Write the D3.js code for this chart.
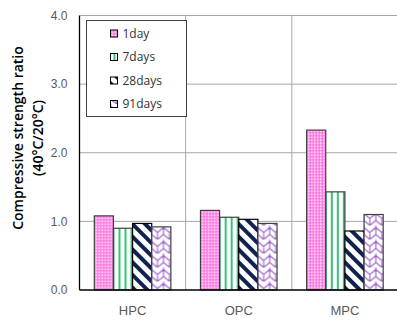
<!doctype html>
<html>
<head>
<meta charset="UTF-8">
<title>Compressive strength ratio</title>
<style>
  body { margin: 0; background: #fff; }
  svg { font-family: "Open Sans", "Liberation Sans", sans-serif; }
  .tick text { font-size: 12px; fill: #595959; }
  .axis path, .axis line { stroke: none; }
</style>
</head>
<body>
<script src="https://cdn.jsdelivr.net/npm/d3@7"></script>
<script>
  const categories = ['HPC', 'OPC', 'MPC']
  const seriesNames = ['1day', '7days', '28days', '91days']
  const day1 = [1.08, 1.16, 2.33]
  const day7 = [0.90, 1.06, 1.43]
  const day28 = [0.97, 1.03, 0.86]
  const day91 = [0.92, 0.97, 1.10]
  const yTicks = [0, 1, 2, 3, 4]

  const values = [day1, day7, day28, day91]

  const W = 397, H = 320
  const margin = {top: 15.5, right: 0, bottom: 30, left: 79.5}
  const width = 398 - margin.left
  const height = 290 - margin.top

  const svg = d3.select('body').append('svg')
    .attr('width', W).attr('height', H)

  // patterns
  const defs = svg.append('defs')
  const p1 = defs.append('pattern').attr('id', 'p0')
    .attr('patternUnits', 'userSpaceOnUse').attr('width', 3).attr('height', 3)
  p1.append('rect').attr('width', 3).attr('height', 3).attr('fill', '#ff70e0')
  p1.append('rect').attr('x', 1).attr('y', 1).attr('width', 1.6).attr('height', 1.6).attr('fill', '#fff')

  const p2 = defs.append('pattern').attr('id', 'p1')
    .attr('patternUnits', 'userSpaceOnUse').attr('width', 6).attr('height', 6)
  p2.append('rect').attr('width', 6).attr('height', 6).attr('fill', '#fff')
  p2.append('rect').attr('x', 3).attr('width', 2).attr('height', 6).attr('fill', '#33c477')

  const p3 = defs.append('pattern').attr('id', 'p2')
    .attr('patternUnits', 'userSpaceOnUse').attr('width', 9).attr('height', 9)
    .attr('patternTransform', 'rotate(45)')
  p3.append('rect').attr('width', 9).attr('height', 9).attr('fill', '#fff')
  p3.append('rect').attr('width', 9).attr('height', 4).attr('fill', '#0f2250')

  const p4 = defs.append('pattern').attr('id', 'p3')
    .attr('patternUnits', 'userSpaceOnUse').attr('width', 12).attr('height', 14)
  p4.append('rect').attr('width', 12).attr('height', 14).attr('fill', '#fff')
  p4.append('path').attr('d', 'M0,2 L6,7 L12,2 M6,7 L6,14 M0,9 L0,2 M12,9 L12,2 M0,9 L6,14 L12,9 M0,0 L0,2 M12,0 L12,2')
    .attr('fill', 'none').attr('stroke', '#9a60c8').attr('stroke-width', 1.1)

  const g = svg.append('g').attr('transform', `translate(${margin.left},${margin.top})`)

  const x0 = d3.scaleBand().domain(categories).range([0, width]).paddingInner(0).paddingOuter(0)
  const x1 = d3.scaleBand().domain(seriesNames).range([14.8, x0.bandwidth() - 14.8])
  const y = d3.scaleLinear().domain([0, 4]).range([height, 0])

  // gridlines
  g.append('g').selectAll('line').data(yTicks.slice(1)).join('line')
    .attr('x1', 0).attr('x2', width)
    .attr('y1', d => y(d)).attr('y2', d => y(d))
    .attr('stroke', '#a6a6a6').attr('stroke-width', 1)
  g.append('g').selectAll('line').data(categories.slice(1).concat(['end'])).join('line')
    .attr('x1', (d, i) => x0.bandwidth() * (i + 1)).attr('x2', (d, i) => x0.bandwidth() * (i + 1))
    .attr('y1', 0).attr('y2', height)
    .attr('stroke', '#a6a6a6').attr('stroke-width', 1)

  // bars
  categories.forEach((c, ci) => {
    g.append('g').attr('transform', `translate(${x0(c)},0)`)
      .selectAll('rect').data(seriesNames).join('rect')
      .attr('x', d => x1(d))
      .attr('width', x1.bandwidth())
      .attr('y', (d, si) => y(values[si][ci]))
      .attr('height', (d, si) => height - y(values[si][ci]))
      .attr('fill', (d, si) => `url(#p${si})`)
      .attr('stroke', (d, si) => si === 2 ? '#000' : '#404040')
      .attr('stroke-width', 1.2)
  })

  // axes
  const yAxis = g.append('g').attr('class', 'axis')
    .call(d3.axisLeft(y).tickValues(yTicks).tickFormat(d3.format('.1f')).tickSize(0).tickPadding(12))
  yAxis.select('.domain').remove()
  g.append('line').attr('x1', 0).attr('x2', 0).attr('y1', 0).attr('y2', height)
    .attr('stroke', '#000').attr('stroke-width', 1.3)

  const xAxis = g.append('g').attr('class', 'axis').attr('transform', `translate(0,${height})`)
    .call(d3.axisBottom(x0).tickSize(0).tickPadding(16))
  xAxis.selectAll('text').style('font-size', '13px')
  g.append('line').attr('x1', 0).attr('x2', width).attr('y1', height).attr('y2', height)
    .attr('stroke', '#000').attr('stroke-width', 1.3)

  // y title
  const title = svg.append('text')
    .attr('transform', 'translate(23,138) rotate(-90)')
    .attr('text-anchor', 'middle')
    .style('font-size', '14px').style('font-weight', '600').attr('fill', '#000')
  title.append('tspan').attr('x', 0).attr('dy', 0).text('Compressive strength ratio')
  title.append('tspan').attr('x', 0).attr('dy', 20).text('(40°C/20°C)')

  // legend
  const lg = svg.append('g').attr('transform', 'translate(86.5,20.5)')
  lg.append('rect').attr('width', 100).attr('height', 96)
    .attr('fill', '#fff').attr('stroke', '#404040').attr('stroke-width', 1)
  const items = lg.selectAll('g.item').data(seriesNames).join('g')
    .attr('transform', (d, i) => `translate(24,${13 + i * 23.5})`)
  items.append('rect').attr('x', 0).attr('y', -3.5).attr('width', 7).attr('height', 7)
    .attr('fill', (d, i) => `url(#p${i})`).attr('stroke', '#000').attr('stroke-width', 1)
  items.append('text').attr('x', 12).attr('dy', '0.35em')
    .style('font-size', '12px').attr('fill', '#333').text(d => d)
</script>
</body>
</html>
